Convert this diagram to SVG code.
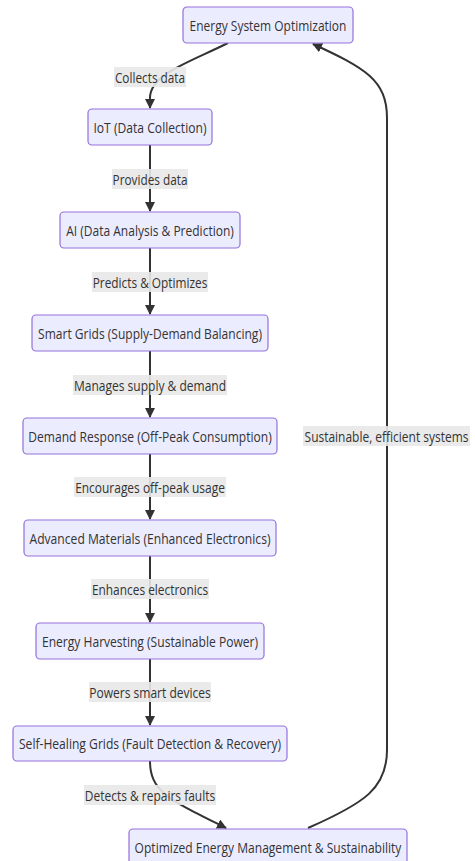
<svg xmlns="http://www.w3.org/2000/svg" width="475" height="861" viewBox="0 0 475 861">
<defs>
<style>
.node rect{fill:#ECECFF;stroke:#9370DB;stroke-width:1.2}
text{font-family:"Open Sans","Liberation Sans",sans-serif;font-size:15px;fill:#333;text-anchor:middle;dominant-baseline:central}
.lbl rect{fill:#e8e8e8;opacity:0.9}
.edge{fill:none;stroke:#333;stroke-width:2}
</style>
<marker id="arr" viewBox="0 0 10 10" refX="9" refY="5" markerWidth="5" markerHeight="5" orient="auto" markerUnits="strokeWidth">
<path d="M0,0 L10,5 L0,10 z" fill="#333"/>
</marker>
</defs>
<rect width="475" height="861" fill="#fff"/>
<g id="connectors">
<path class="edge" d="M228,43 C190,62 150,74 150,98 L150,108" marker-end="url(#arr)"/>
<path class="edge" d="M150,145 L150,211" marker-end="url(#arr)"/>
<path class="edge" d="M150,248 L150,314" marker-end="url(#arr)"/>
<path class="edge" d="M150,351 L150,417" marker-end="url(#arr)"/>
<path class="edge" d="M150,454 L150,519" marker-end="url(#arr)"/>
<path class="edge" d="M150,556 L150,622" marker-end="url(#arr)"/>
<path class="edge" d="M150,659 L150,725" marker-end="url(#arr)"/>
<path class="edge" d="M150,761 C150,792 170,800 226,828" marker-end="url(#arr)"/>
<path class="edge" d="M308,828 C365,803 387,788 387,750 L387,118 C387,80 365,68 313,44" marker-end="url(#arr)"/>
<g class="lbl"><rect x="114" y="67" width="72" height="20"/><text transform="translate(150,77) scale(0.78,1)" textLength="90" lengthAdjust="spacingAndGlyphs">Collects data</text></g>
<g class="lbl"><rect x="112" y="169" width="76" height="20"/><text transform="translate(150,179) scale(0.78,1)" textLength="96" lengthAdjust="spacingAndGlyphs">Provides data</text></g>
<g class="lbl"><rect x="92" y="272" width="116" height="20"/><text transform="translate(150,282) scale(0.78,1)" textLength="147" lengthAdjust="spacingAndGlyphs">Predicts &amp; Optimizes</text></g>
<g class="lbl"><rect x="73" y="375" width="154" height="20"/><text transform="translate(150,385) scale(0.78,1)" textLength="195" lengthAdjust="spacingAndGlyphs">Manages supply &amp; demand</text></g>
<g class="lbl"><rect x="74" y="477" width="152" height="20"/><text transform="translate(150,487) scale(0.78,1)" textLength="192" lengthAdjust="spacingAndGlyphs">Encourages off-peak usage</text></g>
<g class="lbl"><rect x="91" y="579" width="118" height="20"/><text transform="translate(150,589) scale(0.78,1)" textLength="149" lengthAdjust="spacingAndGlyphs">Enhances electronics</text></g>
<g class="lbl"><rect x="89" y="682" width="122" height="20"/><text transform="translate(150,692) scale(0.78,1)" textLength="156" lengthAdjust="spacingAndGlyphs">Powers smart devices</text></g>
<g class="lbl"><rect x="84" y="785" width="132" height="20"/><text transform="translate(150,795) scale(0.78,1)" textLength="167" lengthAdjust="spacingAndGlyphs">Detects &amp; repairs faults</text></g>
<g class="lbl"><rect x="303" y="426" width="167" height="20"/><text transform="translate(386.5,436) scale(0.78,1)" textLength="210" lengthAdjust="spacingAndGlyphs">Sustainable, efficient systems</text></g>
</g>
<g id="n1" class="node"><rect x="183" y="7" width="170" height="36" rx="4"/><text transform="translate(268,25) scale(0.78,1)" textLength="201" lengthAdjust="spacingAndGlyphs">Energy System Optimization</text></g>
<g id="n2" class="node"><rect x="88" y="109" width="124" height="36" rx="4"/><text transform="translate(150,127) scale(0.78,1)" textLength="145" lengthAdjust="spacingAndGlyphs">IoT (Data Collection)</text></g>
<g id="n3" class="node"><rect x="60" y="212" width="180" height="36" rx="4"/><text transform="translate(150,230) scale(0.78,1)" textLength="215" lengthAdjust="spacingAndGlyphs">AI (Data Analysis &amp; Prediction)</text></g>
<g id="n4" class="node"><rect x="32" y="315" width="236" height="36" rx="4"/><text transform="translate(150,333) scale(0.78,1)" textLength="287" lengthAdjust="spacingAndGlyphs">Smart Grids (Supply-Demand Balancing)</text></g>
<g id="n5" class="node"><rect x="23" y="418" width="254" height="36" rx="4"/><text transform="translate(150,436) scale(0.78,1)" textLength="312" lengthAdjust="spacingAndGlyphs">Demand Response (Off-Peak Consumption)</text></g>
<g id="n6" class="node"><rect x="24" y="520" width="252" height="36" rx="4"/><text transform="translate(150,538) scale(0.78,1)" textLength="309" lengthAdjust="spacingAndGlyphs">Advanced Materials (Enhanced Electronics)</text></g>
<g id="n7" class="node"><rect x="36" y="623" width="228" height="36" rx="4"/><text transform="translate(150,641) scale(0.78,1)" textLength="277" lengthAdjust="spacingAndGlyphs">Energy Harvesting (Sustainable Power)</text></g>
<g id="n8" class="node"><rect x="13" y="726" width="274" height="35" rx="4"/><text transform="translate(150,743.5) scale(0.78,1)" textLength="336" lengthAdjust="spacingAndGlyphs">Self-Healing Grids (Fault Detection &amp; Recovery)</text></g>
<g id="n9" class="node"><rect x="129" y="829" width="278" height="36" rx="4"/><text transform="translate(268,847) scale(0.78,1)" textLength="342" lengthAdjust="spacingAndGlyphs">Optimized Energy Management &amp; Sustainability</text></g>
</svg>
